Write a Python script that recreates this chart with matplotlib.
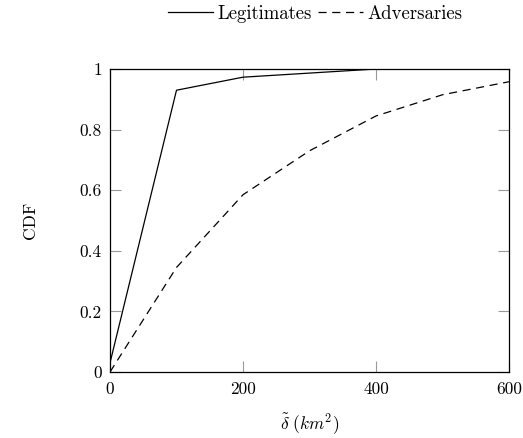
import matplotlib
matplotlib.use("Agg")
import matplotlib.pyplot as plt

plt.rcParams['font.family'] = ['cmr10', 'DejaVu Serif']
plt.rcParams['mathtext.fontset'] = 'cm'
plt.rcParams['axes.formatter.use_mathtext'] = True

legit_x = [0, 100, 200, 400, 600]
legit_y = [0.03, 0.93, 0.973, 1.0, 1.0]
adv_x = [0, 100, 200, 300, 400, 500, 600]
adv_y = [0.0, 0.345, 0.585, 0.73, 0.845, 0.915, 0.958]
xticks = [0, 200, 400, 600]
yticks = [0, 0.2, 0.4, 0.6, 0.8, 1]
ytick_labels = ["0", "0.2", "0.4", "0.6", "0.8", "1"]

fig = plt.figure(figsize=(5.23, 4.38), dpi=100)
ax = fig.add_axes([110/523, 1-372/438, (509-110)/523, (372-69)/438])
ax.plot(legit_x, legit_y, color='black', lw=0.9, label='Legitimates')
ax.plot(adv_x, adv_y, color='black', lw=0.9, linestyle=(0, (6.5, 4.5)), label='Adversaries')
ax.set_xlim(0, 600)
ax.set_ylim(0, 1)
ax.set_xticks(xticks)
ax.set_xticklabels([str(t) for t in xticks])
ax.set_yticks(yticks)
ax.set_yticklabels(ytick_labels)
ax.tick_params(direction='in', length=8, width=0.8, color='#999999',
               top=True, right=True, labelsize=12.5, labelcolor='black')
ax.tick_params(axis='x', pad=7)
ax.tick_params(axis='y', pad=6)
for s in ax.spines.values():
    s.set_linewidth(0.9)
ax.set_xlabel(r'$\tilde{\delta}\ (km^2)$', fontsize=12.5, labelpad=10)
ax.set_ylabel('CDF', fontsize=12.5, labelpad=30)

fig.legend(handles=ax.get_lines(), loc='center', bbox_to_anchor=(315/523, 1-14/438),
           ncol=2, frameon=False, fontsize=13.5, handlelength=2.4,
           handletextpad=0.25, columnspacing=0.3)
fig.savefig('out.png', dpi=100)
